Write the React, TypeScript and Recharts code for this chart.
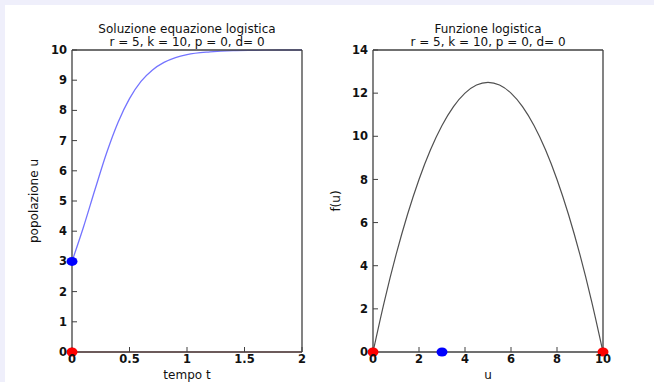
import { ComposedChart, Line, Scatter, XAxis, YAxis, Label } from 'recharts'

const tempo = [0, 0.1, 0.2, 0.3, 0.4, 0.5, 0.6, 0.7, 0.8, 0.9, 1.0, 1.2, 1.4, 1.6, 1.8, 2.0]
const popolazione = [3, 4.14, 5.38, 6.58, 7.6, 8.39, 8.96, 9.34, 9.59, 9.75, 9.85, 9.94, 9.98, 9.99, 10, 10]

const uValues = [0, 0.5, 1, 1.5, 2, 2.5, 3, 3.5, 4, 4.5, 5, 5.5, 6, 6.5, 7, 7.5, 8, 8.5, 9, 9.5, 10]
const fValues = [0, 2.375, 4.5, 6.375, 8, 9.375, 10.5, 11.375, 12, 12.375, 12.5, 12.375, 12, 11.375, 10.5, 9.375, 8, 6.375, 4.5, 2.375, 0]

const leftXTicks = [0, 0.5, 1, 1.5, 2]
const leftYTicks = [0, 1, 2, 3, 4, 5, 6, 7, 8, 9, 10]
const rightXTicks = [0, 2, 4, 6, 8, 10]
const rightYTicks = [0, 2, 4, 6, 8, 10, 12, 14]

const equilibriLeft = [{ x: 0, y: 0 }]
const inizialeLeft = [{ x: 0, y: 3 }]
const equilibriRight = [{ x: 0, y: 0 }, { x: 10, y: 0 }]
const inizialeRight = [{ x: 3, y: 0 }]
const rettaZero = [{ x: 0, y: 0 }, { x: 2, y: 0 }]

const curva = tempo.map((t, i) => ({ x: t, y: popolazione[i] }))
const parabola = uValues.map((u, i) => ({ x: u, y: fValues[i] }))

const font = '"DejaVu Sans", Arial, sans-serif'
const axisColor = '#404040'
const tickStyle = { fill: '#111', fontSize: 11.5, fontFamily: font, fontWeight: 'bold' }
const labelStyle = { fill: '#111', fontSize: 12, fontFamily: font }
const titleStyle = { fill: '#111', fontSize: 12, fontFamily: font }

const dot = (color: string) => (props: any) => (
  <ellipse cx={props.cx} cy={props.cy} rx={5.5} ry={4.5} fill={color} />
)

function BoxAxes({ xTicks, yTicks, xDomain, yDomain, xLabel, yLabel, yLabelOffset, title }: any) {
  return [
    <XAxis
      key="xb"
      dataKey="x"
      type="number"
      domain={xDomain}
      ticks={xTicks}
      height={30}
      tickSize={-5}
      tickMargin={8}
      tick={tickStyle}
      axisLine={{ stroke: axisColor, strokeWidth: 1.3 }}
      tickLine={{ stroke: axisColor }}
    >
      <Label value={xLabel} position="insideBottom" offset={3} style={labelStyle} />
    </XAxis>,
    <XAxis
      key="xt"
      xAxisId="top"
      orientation="top"
      dataKey="x"
      type="number"
      domain={xDomain}
      ticks={xTicks}
      height={1}
      tickSize={-5}
      tick={false}
      axisLine={{ stroke: axisColor, strokeWidth: 1.3 }}
      tickLine={{ stroke: axisColor }}
    >
      <Label value={title} position="top" offset={16} style={titleStyle} />
      <Label value="r = 5, k = 10, p = 0, d= 0" position="top" offset={3} style={titleStyle} />
    </XAxis>,
    <YAxis
      key="yl"
      type="number"
      domain={yDomain}
      ticks={yTicks}
      width={yLabelOffset.width}
      tickSize={-5}
      tickMargin={10}
      tick={tickStyle}
      axisLine={{ stroke: axisColor, strokeWidth: 1.3 }}
      tickLine={{ stroke: axisColor }}
    >
      <Label
        value={yLabel}
        angle={-90}
        position="insideLeft"
        offset={yLabelOffset.offset}
        style={{ ...labelStyle, textAnchor: 'middle' }}
      />
    </YAxis>,
    <YAxis
      key="yr"
      yAxisId="right"
      orientation="right"
      type="number"
      domain={yDomain}
      ticks={yTicks}
      width={1}
      tickSize={-5}
      tick={false}
      axisLine={{ stroke: axisColor, strokeWidth: 1.3 }}
      tickLine={{ stroke: axisColor }}
    />,
  ]
}

export default function App() {
  return (
    <div style={{ position: 'absolute', left: 0, top: 0, width: 654, height: 382, background: '#fff', overflow: 'hidden' }}>
      <div style={{ position: 'absolute', left: 0, top: 0, width: 654, height: 5, background: '#efeffb' }} />
      <div style={{ position: 'absolute', left: 0, top: 0, width: 5, height: 382, background: '#efeffb' }} />

      <div style={{ position: 'absolute', left: 0, top: 0 }}>
        <ComposedChart width={320} height={382} margin={{ top: 49, right: 17, left: 0, bottom: 0 }}>
          {BoxAxes({
            xTicks: leftXTicks,
            yTicks: leftYTicks,
            xDomain: [0, 2],
            yDomain: [0, 10],
            xLabel: 'tempo t',
            yLabel: 'popolazione u',
            yLabelOffset: { width: 72, offset: 34 },
            title: 'Soluzione equazione logistica',
          })}
          <Line data={rettaZero} dataKey="y" stroke="#e05a5a" strokeWidth={1.2} dot={false} isAnimationActive={false} />
          <Line data={curva} dataKey="y" type="monotone" stroke="#7474ff" strokeWidth={1.3} dot={false} isAnimationActive={false} />
          <Scatter data={equilibriLeft} dataKey="y" shape={dot('#ff0000')} isAnimationActive={false} />
          <Scatter data={inizialeLeft} dataKey="y" shape={dot('#0000ff')} isAnimationActive={false} />
        </ComposedChart>
      </div>

      <div style={{ position: 'absolute', left: 320, top: 0 }}>
        <ComposedChart width={334} height={382} margin={{ top: 49, right: 50, left: 0, bottom: 0 }}>
          {BoxAxes({
            xTicks: rightXTicks,
            yTicks: rightYTicks,
            xDomain: [0, 10],
            yDomain: [0, 14],
            xLabel: 'u',
            yLabel: 'f(u)',
            yLabelOffset: { width: 53, offset: 16 },
            title: 'Funzione logistica',
          })}
          <Line data={parabola} dataKey="y" type="monotone" stroke="#505050" strokeWidth={1.2} dot={false} isAnimationActive={false} />
          <Scatter data={equilibriRight} dataKey="y" shape={dot('#ff0000')} isAnimationActive={false} />
          <Scatter data={inizialeRight} dataKey="y" shape={dot('#0000ff')} isAnimationActive={false} />
        </ComposedChart>
      </div>
    </div>
  )
}
